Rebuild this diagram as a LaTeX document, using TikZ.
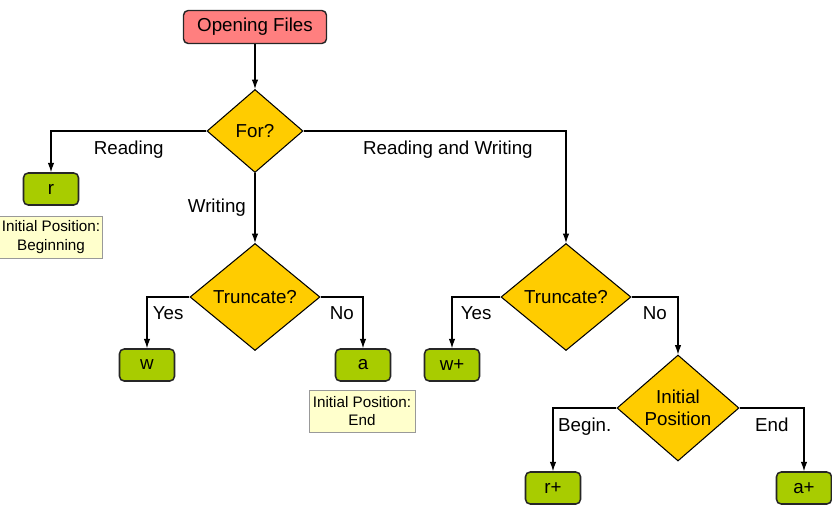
\documentclass[tikz,border=0pt]{standalone}
\usepackage{fontspec}
\setmainfont{Liberation Sans}
\usepackage{tikz}
\usetikzlibrary{shapes.geometric,arrows.meta}
\definecolor{startred}{HTML}{FF7F7F}
\definecolor{askyellow}{HTML}{FFCC00}
\definecolor{modegreen}{HTML}{A8CC00}
\definecolor{notecream}{HTML}{FFFFCC}
\begin{document}
\begin{tikzpicture}[x=0.03cm, y=-0.03cm, >={Latex[length=8pt,width=5.5pt]}, line width=0.9pt,
    every node/.style={font=\fontsize{16}{19}\selectfont},
    startbox/.style={rectangle, rounded corners=4pt, draw=black!85, line width=1.2pt, fill=startred, minimum width=4.29cm, minimum height=0.99cm, inner sep=0pt},
    askdiam/.style={diamond, draw=black, line width=0.9pt, fill=askyellow, inner sep=0pt, align=center},
    modebox/.style={rectangle, rounded corners=4pt, draw=black!85, line width=1.3pt, fill=modegreen, minimum width=1.65cm, minimum height=0.96cm, inner sep=0pt},
    notebox/.style={rectangle, draw=black!40, line width=0.6pt, fill=notecream, align=center, inner sep=0pt, minimum height=1.26cm, font=\fontsize{13}{15.5}\selectfont},
    lbl/.style={below=8pt, inner sep=0pt}]
  \useasboundingbox (0,0) rectangle (832,507);
  \node[startbox] (open) at (255, 27) {Opening Files};
  \node[askdiam, minimum width=2.88cm, minimum height=2.49cm, aspect=1.16] (for) at (255, 131) {For?};
  \node[modebox] (r) at (51, 189) {r};
  \node[notebox, minimum width=3.09cm] (rnote) at (51, 237) {Initial Position:\\Beginning};
  \node[askdiam, minimum width=3.9cm, minimum height=3.21cm, aspect=1.21] (trunc) at (255, 297) {Truncate?};
  \node[modebox] (w) at (147, 365) {w};
  \node[modebox] (a) at (363, 365) {a};
  \node[notebox, minimum width=3.18cm] (anote) at (362, 411) {Initial Position:\\End};
  \node[askdiam, minimum width=3.9cm, minimum height=3.21cm, aspect=1.21] (trunc') at (566, 297) {Truncate?};
  \node[modebox] (w') at (452, 365) {w+};
  \node[askdiam, minimum width=3.66cm, minimum height=3.18cm, aspect=1.15] (init) at (678, 408) {Initial\\Position};
  \node[modebox] (r') at (553, 488) {r+};
  \node[modebox] (a') at (804, 488) {a+};
  % connectors
  \draw[->] (open) -- (for);
  \draw[->] (for.west) -| node[lbl, pos=0.25] {Reading} (r.north);
  \draw[->] (for.south) -- node[left=4pt, midway] {Writing} (trunc.north);
  \draw[->] (for.east) -| node[lbl, pos=0.275] {Reading and Writing} (trunc'.north);
  \draw[->] (trunc.west) -| node[lbl, pos=0.25] {Yes} (w.north);
  \draw[->] (trunc.east) -| node[lbl, pos=0.25] {No} (a.north);
  \draw[->] (trunc'.west) -| node[lbl, pos=0.25] {Yes} (w'.north);
  \draw[->] (trunc'.east) -| node[lbl, pos=0.25] {No} (init.north);
  \draw[->] (init.west) -| node[lbl, pos=0.25] {Begin.} (r'.north);
  \draw[->] (init.east) -| node[lbl, pos=0.25] {End} (a'.north);
\end{tikzpicture}
\end{document}
